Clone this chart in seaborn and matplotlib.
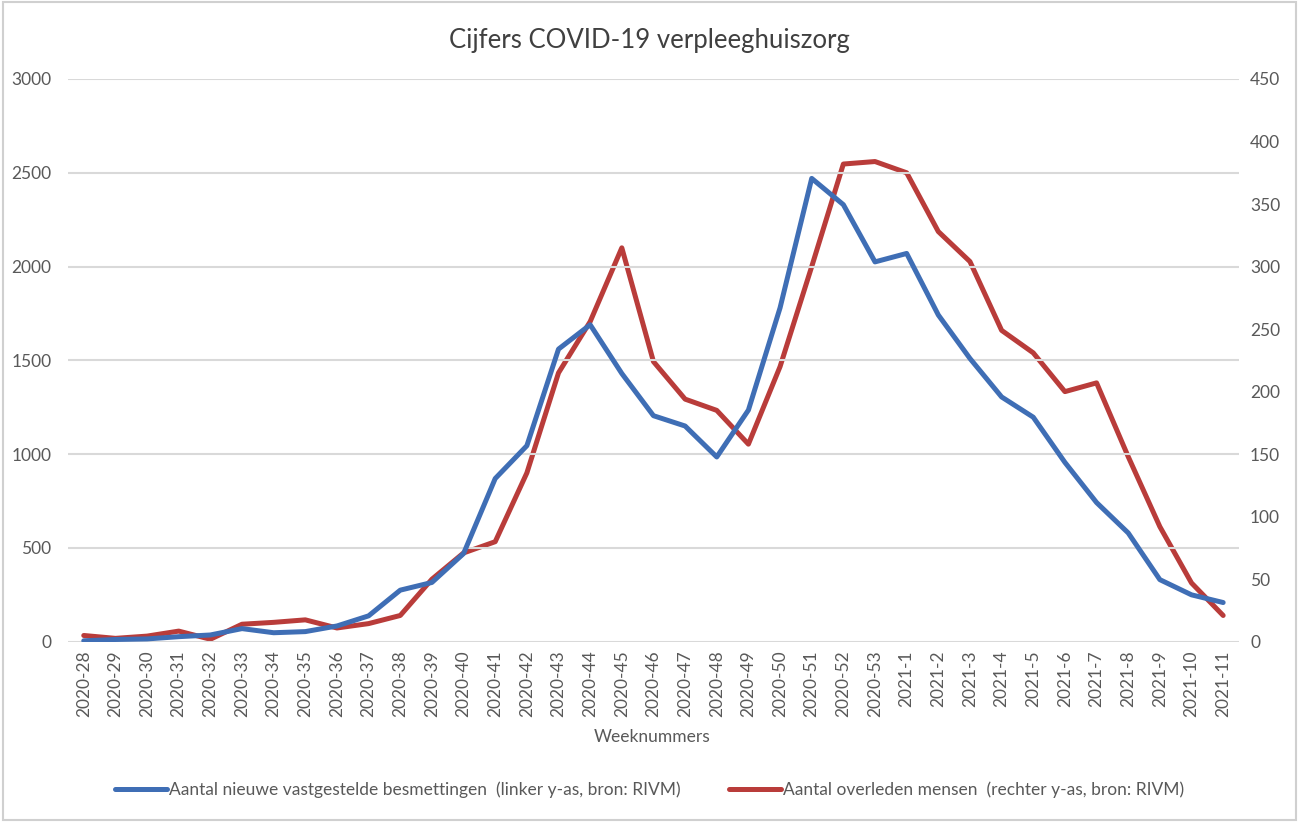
import numpy as np
import pandas as pd
import seaborn as sns
import matplotlib.pyplot as plt
from matplotlib.lines import Line2D
from matplotlib.patches import Rectangle

# week labels
weeks_2020 = [f"2020-{w}" for w in range(28, 54)]
weeks_2021 = [f"2021-{w}" for w in range(1, 12)]
weeks = weeks_2020 + weeks_2021

# new confirmed infections (left axis)
besmettingen = [5, 12, 15, 27, 36, 70, 48, 54, 84, 138, 275, 316, 470,
                870, 1045, 1560, 1690, 1430, 1205, 1150, 985, 1235, 1780,
                2470, 2330, 2025, 2070, 1742, 1510, 1305, 1197, 956, 742,
                580, 331, 250, 209]

# deaths (right axis)
overleden = [5, 2.7, 4.5, 8.5, 2, 14, 15.5, 17.5, 11, 14.5, 21, 50, 71,
             80, 135, 215, 256, 315, 224, 194, 185, 158, 220,
             300, 382, 384, 375, 328, 304, 249, 231, 200, 207,
             148, 92, 47, 21]

df = pd.DataFrame({"week": weeks, "besmettingen": besmettingen, "overleden": overleden})
df["pos"] = np.arange(len(df))

blue = "#3F6EB5"
red = "#B93C3A"
grey_txt = "#595959"
grid_col = "#D9D9D9"

sns.set_style("white")
plt.rcParams["font.family"] = ["Lato", "DejaVu Sans"]

fig = plt.figure(figsize=(12.99, 8.22), dpi=100)
ax = fig.add_axes([0.0523, 0.2193, 0.9015, 0.6846])
ax2 = ax.twinx()

sns.lineplot(data=df, x="pos", y="besmettingen", ax=ax, color=blue, linewidth=3.6, zorder=3)
sns.lineplot(data=df, x="pos", y="overleden", ax=ax2, color=red, linewidth=3.6, zorder=3)

ax.set_xlim(-0.5, len(df) - 0.5)
ax.set_ylim(0, 3000)
ax2.set_ylim(0, 450)
ax.set_yticks(np.arange(0, 3001, 500))
ax2.set_yticks(np.arange(0, 451, 50))
ax.set_xticks(df["pos"])
ax.set_xticklabels(df["week"], rotation=90)

ax.grid(axis="y", color=grid_col, linewidth=1.5)
ax.set_axisbelow(True)
for a in (ax, ax2):
    for s in a.spines.values():
        s.set_visible(False)
    a.tick_params(length=0, colors=grey_txt, labelsize=12.5)
    a.set_ylabel("")
ax.tick_params(axis="y", pad=12)
ax2.tick_params(axis="y", pad=8)
ax.tick_params(axis="x", pad=6)
ax.set_xlabel("")

# put left axis lines on top of the twin axis background
ax.set_zorder(ax2.get_zorder() + 1)
ax.patch.set_visible(False)
ax2.set_zorder(0)

fig.text(0.5, 0.951, "Cijfers COVID-19 verpleeghuiszorg", ha="center", va="center",
         fontsize=18.5, color="#404040")
fig.text(0.502, 0.104, "Weeknummers", ha="center", va="center", fontsize=12.5, color=grey_txt)

handles = [Line2D([], [], color=blue, linewidth=3.6),
           Line2D([], [], color=red, linewidth=3.6)]
labels = ["Aantal nieuwe vastgestelde besmettingen  (linker y-as, bron: RIVM)",
          "Aantal overleden mensen  (rechter y-as, bron: RIVM)"]
leg = fig.legend(handles, labels, loc="center", bbox_to_anchor=(0.5, 0.039), ncol=2,
                 frameon=False, fontsize=12.5, handlelength=3.0, handletextpad=0.1,
                 columnspacing=2.8)
for t in leg.get_texts():
    t.set_color(grey_txt)

fig.patches.append(Rectangle((0.002, 0.002), 0.996, 0.996, transform=fig.transFigure,
                             fill=False, edgecolor="#D0D0D0", linewidth=1.5))

fig.savefig("out.png", dpi=100)
